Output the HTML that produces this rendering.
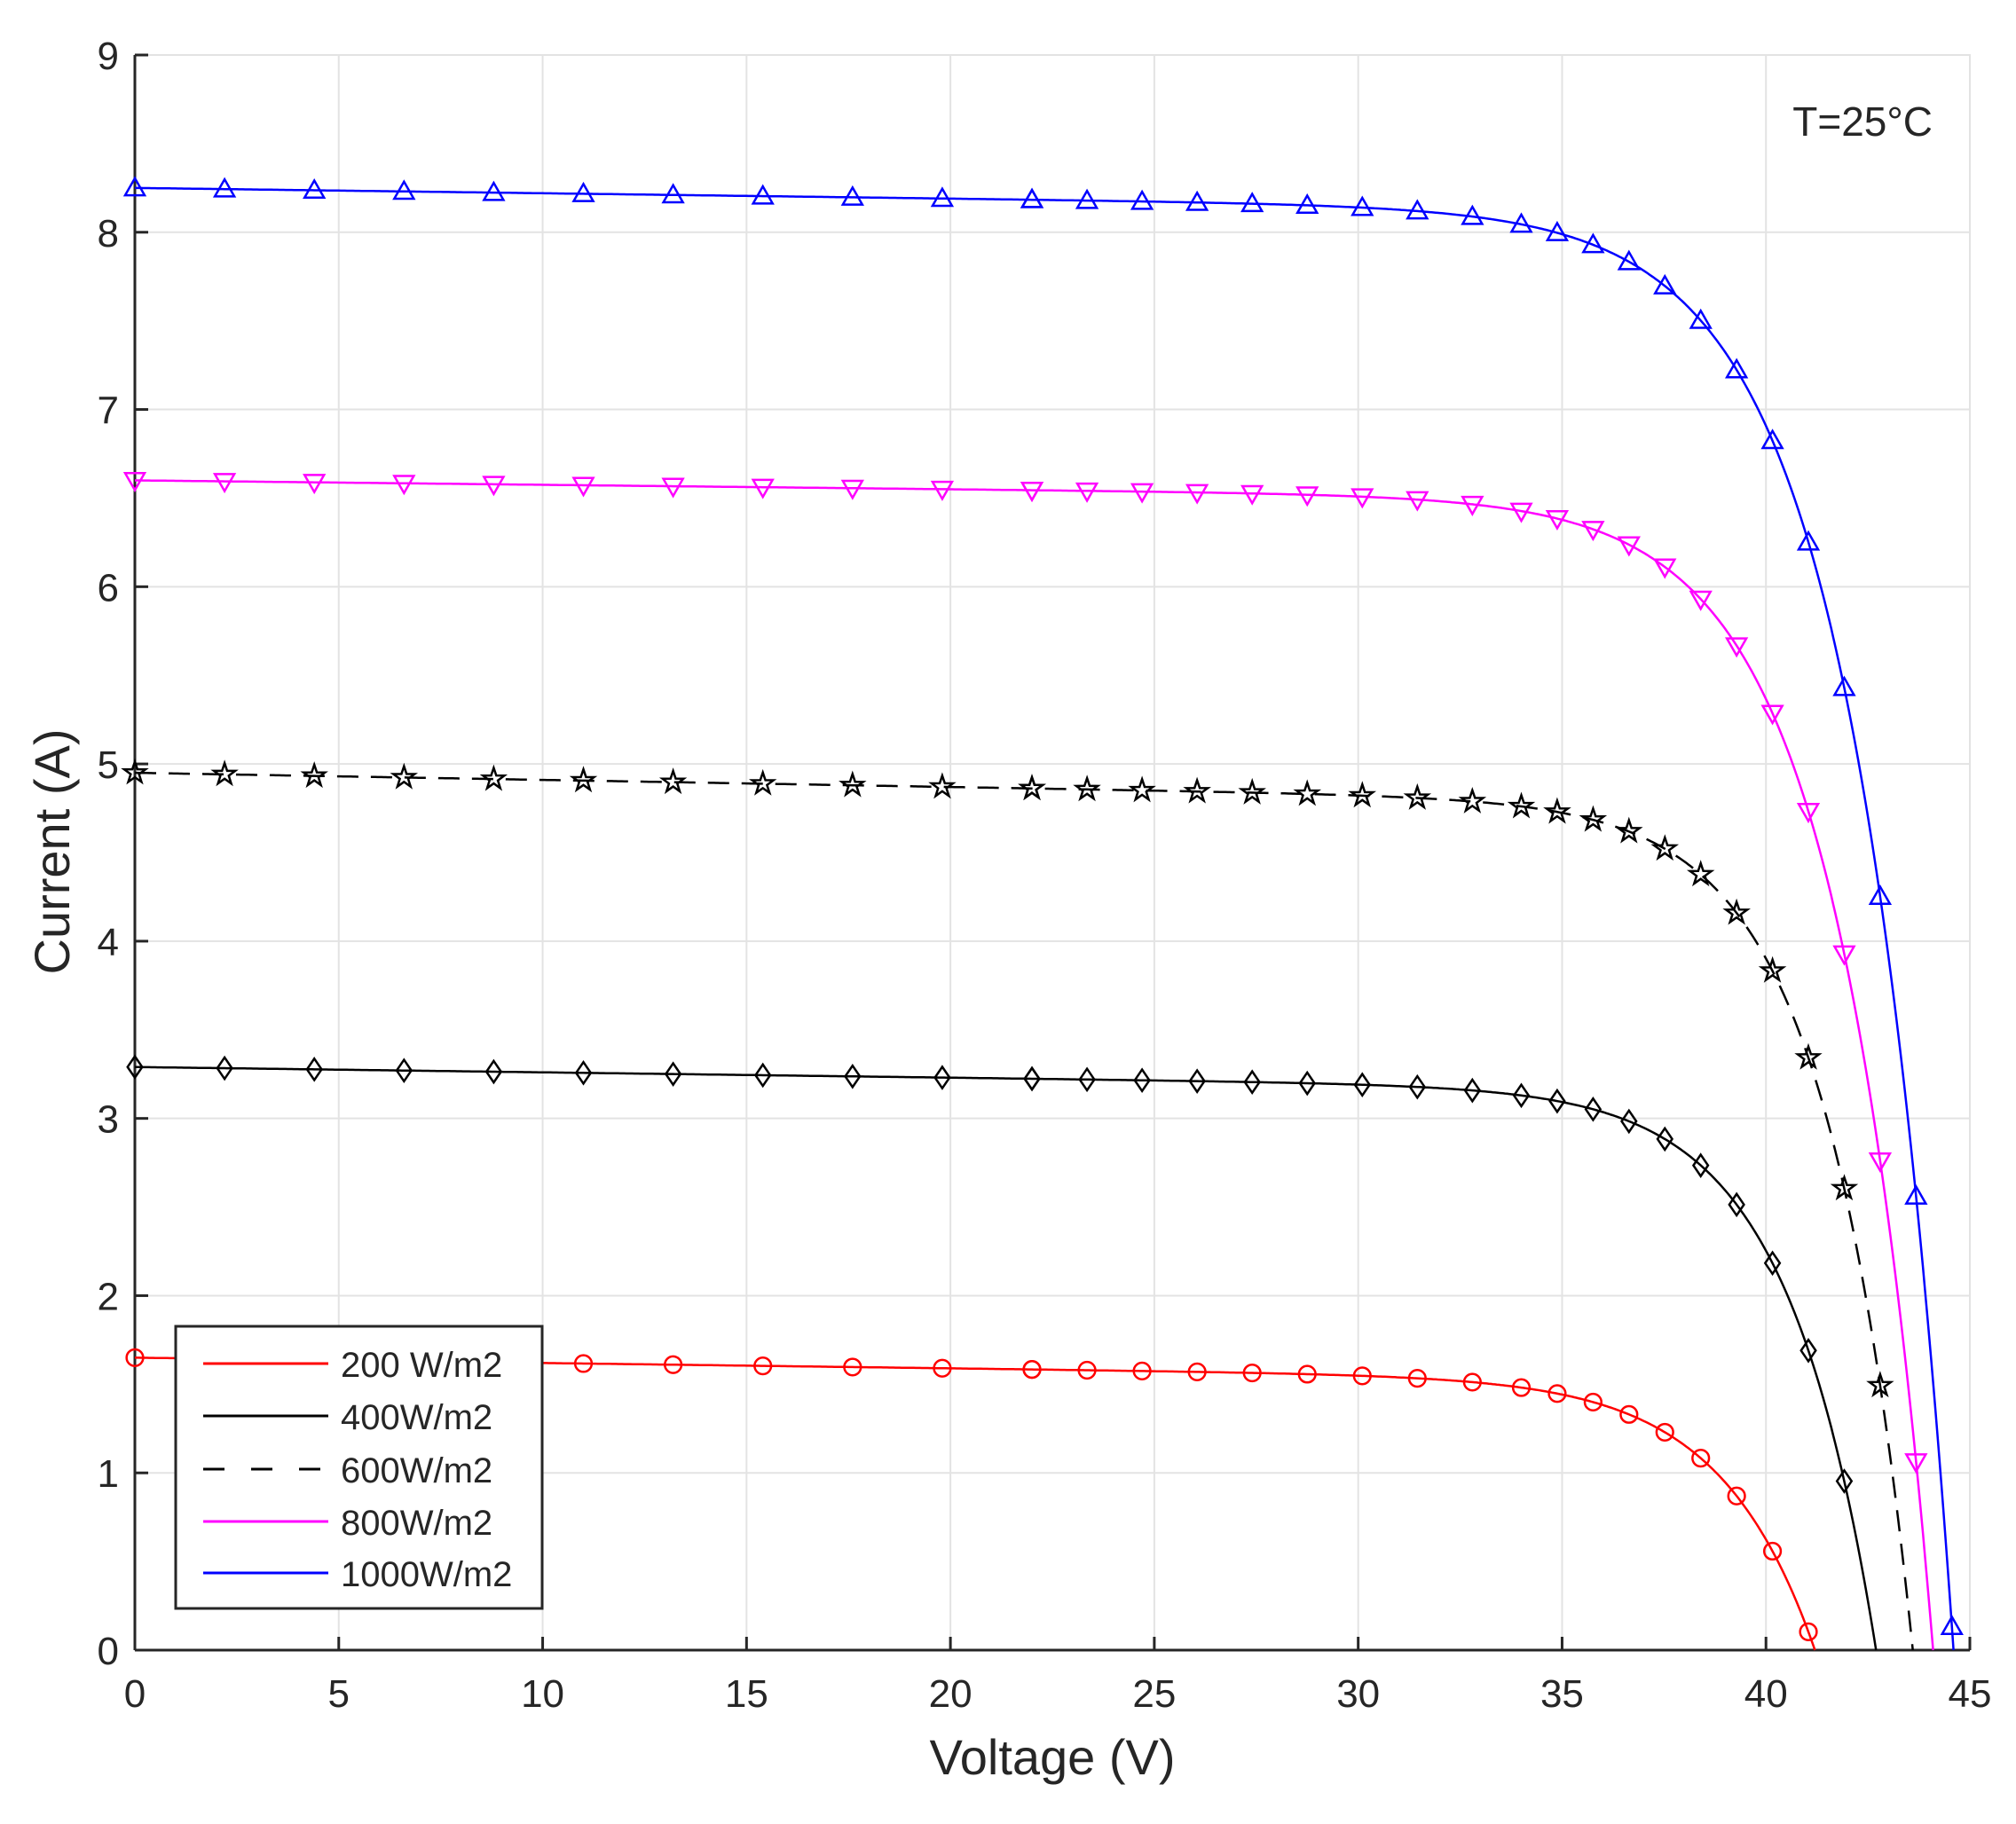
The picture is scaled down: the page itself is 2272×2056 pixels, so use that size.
<!DOCTYPE html>
<html><head><meta charset="utf-8"><style>
html,body{margin:0;padding:0;background:#fff;}
svg{display:block;font-family:"Liberation Sans",Arial,sans-serif;}
</style></head><body>
<svg id="s" width="2272" height="2056" viewBox="0 0 2272 2056" xmlns="http://www.w3.org/2000/svg"></svg>
<script>
const L=152,R=2220,T=62,B=1860;
const X=v=>L+(R-L)*v/45, Y=i=>B-(B-T)*i/9;
let h='<rect width="2272" height="2056" fill="#fff"/>';
for(let v=5;v<45;v+=5)h+=`<line x1="${X(v)}" y1="${T}" x2="${X(v)}" y2="${B}" stroke="#e3e3e3" stroke-width="2"/>`;
for(let i=1;i<9;i++)h+=`<line x1="${L}" y1="${Y(i)}" x2="${R}" y2="${Y(i)}" stroke="#e3e3e3" stroke-width="2"/>`;
h+=`<rect x="${L}" y="${T}" width="${R-L}" height="${B-T}" fill="none" stroke="#e3e3e3" stroke-width="2"/>`;
// ticks
for(let v=0;v<=45;v+=5){h+=`<line x1="${X(v)}" y1="${B}" x2="${X(v)}" y2="${B-15}" stroke="#262626" stroke-width="3"/>`;
 h+=`<text x="${X(v)}" y="1924" font-size="44" fill="#262626" text-anchor="middle">${v}</text>`;}
for(let i=0;i<=9;i++){h+=`<line x1="${L}" y1="${Y(i)}" x2="${L+15}" y2="${Y(i)}" stroke="#262626" stroke-width="3"/>`;
 h+=`<text x="134" y="${Y(i)+16}" font-size="44" fill="#262626" text-anchor="end">${i}</text>`;}
h+=`<line x1="${L}" y1="${T}" x2="${L}" y2="${B}" stroke="#262626" stroke-width="3"/><line x1="${L}" y1="${B}" x2="${R}" y2="${B}" stroke="#262626" stroke-width="3"/>`;
h+=`<text x="1186" y="2000" font-size="56" fill="#262626" text-anchor="middle">Voltage (V)</text>`;
h+=`<text transform="translate(78,960) rotate(-90)" font-size="56" fill="#262626" text-anchor="middle">Current (A)</text>`;
h+=`<text x="2178" y="153" font-size="46" fill="#262626" text-anchor="end">T=25°C</text>`;
const curves=[
 {isc:1.65,k:0.003,voc:41.2,vt:2.3,c:'#ff0000',m:'o'},
 {isc:3.29,k:0.003,voc:42.7,vt:2.18,c:'#000',m:'d'},
 {isc:4.95,k:0.004,voc:43.6,vt:2.14,c:'#000',m:'s',dash:true},
 {isc:6.6,k:0.0025,voc:44.1,vt:2.35,c:'#ff00ff',m:'v'},
 {isc:8.25,k:0.003,voc:44.6,vt:2.43,c:'#0000ff',m:'^'}];
function I(c,v){const A=c.isc-c.k*c.voc;return c.isc-c.k*v-A*Math.exp((v-c.voc)/c.vt);}
function mk(c,x,y){const s=11,col=c.c;
 if(c.m=='o')return `<circle cx="${x}" cy="${y}" r="${s*0.85}" fill="none" stroke="${col}" stroke-width="2.5"/>`;
 if(c.m=='d')return `<polygon points="${x},${y-s*1.1} ${x+s*0.75},${y} ${x},${y+s*1.1} ${x-s*0.75},${y}" fill="none" stroke="${col}" stroke-width="2.5"/>`;
 if(c.m=='^')return `<polygon points="${x},${y-s} ${x+s},${y+s*0.75} ${x-s},${y+s*0.75}" fill="none" stroke="${col}" stroke-width="2.5"/>`;
 if(c.m=='v')return `<polygon points="${x},${y+s} ${x+s},${y-s*0.75} ${x-s},${y-s*0.75}" fill="none" stroke="${col}" stroke-width="2.5"/>`;
 let p=[];for(let j=0;j<10;j++){const r=j%2?s*0.45:s*1.15,a=-Math.PI/2+j*Math.PI/5;p.push((x+r*Math.cos(a)).toFixed(1)+','+(y+r*Math.sin(a)).toFixed(1));}
 return `<polygon points="${p.join(' ')}" fill="none" stroke="${col}" stroke-width="2.5"/>`;}
curves.forEach(c=>{
 let p=[];for(let v=0;v<=c.voc+0.001;v+=0.05){let i=I(c,v);if(i<0)i=0;p.push(X(v).toFixed(1)+','+Y(i).toFixed(1));}
 p.push(X(c.voc).toFixed(1)+','+Y(0));
 h+=`<polyline points="${p.join(' ')}" fill="none" stroke="${c.c}" stroke-width="2.5" ${c.dash?'stroke-dasharray="24,14"':''}/>`;
 let vs=[];for(let v=0;v<22;v+=2.2)vs.push(v);
 for(let v=22;v<34;v+=1.35)vs.push(v);
 for(let v=34;v<c.voc;v+=0.88)vs.push(v);
 vs.forEach(v=>{const i=I(c,v);if(i>0.05)h+=mk(c,X(v),Y(i));});
});
// legend
h+=`<rect x="198" y="1495" width="413" height="318" fill="#fff" stroke="#262626" stroke-width="3"/>`;
const lg=[['200 W/m2','#ff0000',0],['400W/m2','#000',0],['600W/m2','#000',1],['800W/m2','#ff00ff',0],['1000W/m2','#0000ff',0]];
const ly=[1537,1596,1656,1715,1773];
lg.forEach((g,k)=>{h+=`<line x1="229" y1="${ly[k]}" x2="370" y2="${ly[k]}" stroke="${g[1]}" stroke-width="3" ${g[2]?'stroke-dasharray="24,30"':''}/>`;
 h+=`<text x="384" y="${ly[k]+15}" font-size="40" fill="#262626">${g[0]}</text>`;});
document.getElementById('s').innerHTML=h;
</script>
</body></html>
